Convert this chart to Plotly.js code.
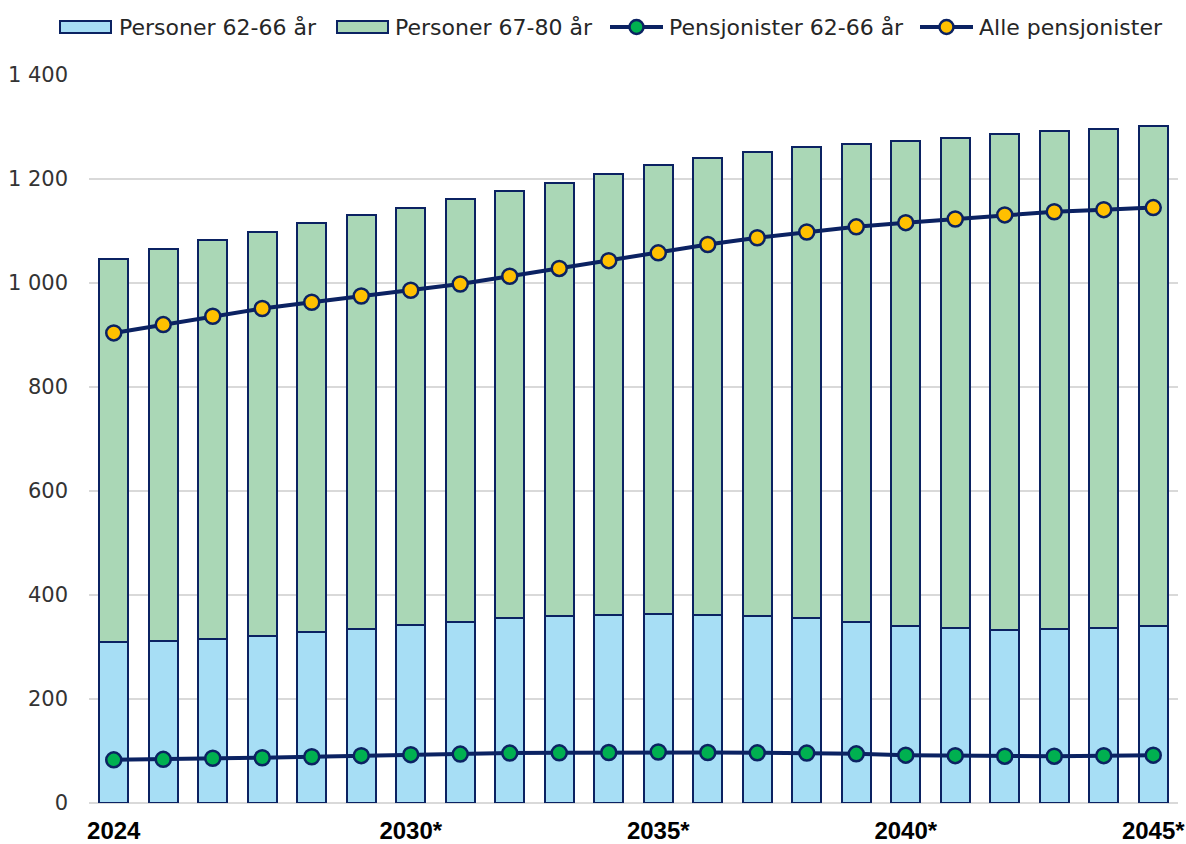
<!DOCTYPE html>
<html>
<head>
<meta charset="utf-8">
<script src="https://cdn.plot.ly/plotly-3.0.1.min.js"></script>
<style>html,body{margin:0;padding:0;background:#fff;}#chart{width:1186px;height:844px;}</style>
</head>
<body>
<div id="chart"></div>
<script>
// ---- Data ----
const years = ['2024','2025','2026','2027','2028','2029','2030','2031','2032','2033','2034','2035','2036','2037','2038','2039','2040','2041','2042','2043','2044','2045'];
const personer6266 = [309,312,315,322,328,334,343,349,355,359,361,363,361,359,355,348,341,337,333,334,336,341];
const personer6780 = [737,753,768,777,787,796,802,812,822,834,848,863,880,893,907,920,932,942,953,958,961,961];
const pensjonister6266 = [83,84,86,87,89,91,93,94,96,96.5,97,98,97,96.5,96,94.5,92,91,90,90,91,92];
const allePensjonister = [904,920,936,951,963,975,986,998,1013,1028,1043,1058,1074,1087,1098,1108,1116,1123,1131,1137,1141,1145];
const tickYears = ['2024','2030','2035','2040','2045'];
const tickLabels = ['2024','2030*','2035*','2040*','2045*'];
const seriesNames = ['Personer 62-66 år','Personer 67-80 år','Pensjonister 62-66 år','Alle pensjonister'];

// ---- Styles ----
const navy = '#0b2262';
const blueFill = '#a7def5';
const greenFill = '#aad7b6';
const yellow = '#ffc000';
const green = '#00b050';
const textFont = 'DejaVu Sans, sans-serif';

const traces = [
  {type:'bar', name:seriesNames[0], x:years, y:personer6266,
   marker:{color:blueFill, line:{color:navy, width:2}}, showlegend:false, hoverinfo:'y'},
  {type:'bar', name:seriesNames[1], x:years, y:personer6780,
   marker:{color:greenFill, line:{color:navy, width:2}}, showlegend:false, hoverinfo:'y'},
  {type:'scatter', mode:'lines+markers', name:seriesNames[2], x:years, y:pensjonister6266,
   line:{color:navy, width:4}, marker:{size:15, color:green, line:{color:navy, width:2.5}}, showlegend:false},
  {type:'scatter', mode:'lines+markers', name:seriesNames[3], x:years, y:allePensjonister,
   line:{color:navy, width:4}, marker:{size:15, color:yellow, line:{color:navy, width:2.5}}, showlegend:false}
];

// ---- Custom legend (pixel layout -> paper coords) ----
const W = 1186, H = 844;
const M = {l:89, r:8, t:74.5, b:41};
const pw = W - M.l - M.r, ph = H - M.t - M.b;
const px = v => (v - M.l) / pw;
const py = v => (H - M.b - v) / ph;

const legendItems = [
  {kind:'box', fill:blueFill, x0:60, x1:111, tx:117},
  {kind:'box', fill:greenFill, x0:337, x1:388, tx:393},
  {kind:'line', fill:green, x0:610, x1:663, tx:667},
  {kind:'line', fill:yellow, x0:920, x1:973, tx:977}
];
const legY = 26.5;
const shapes = [];
const annotations = [];
legendItems.forEach((it, i) => {
  if (it.kind === 'box') {
    shapes.push({type:'rect', xref:'paper', yref:'paper', x0:px(it.x0), x1:px(it.x1), y0:py(legY+6), y1:py(legY-6),
      fillcolor:it.fill, line:{color:navy, width:2}});
  } else {
    shapes.push({type:'line', xref:'paper', yref:'paper', x0:px(it.x0), x1:px(it.x1), y0:py(legY), y1:py(legY),
      line:{color:navy, width:4}});
    const cx = (it.x0 + it.x1) / 2;
    shapes.push({type:'circle', xref:'paper', yref:'paper', x0:px(cx-7), x1:px(cx+7), y0:py(legY+7), y1:py(legY-7),
      fillcolor:it.fill, line:{color:navy, width:2.5}});
  }
  annotations.push({xref:'paper', yref:'paper', x:px(it.tx), y:py(legY), xanchor:'left', yanchor:'middle',
    text:seriesNames[i], showarrow:false, font:{family:textFont, size:22, color:'#262626'}});
});

const layout = {
  width:W, height:H,
  margin:M,
  paper_bgcolor:'#ffffff', plot_bgcolor:'#ffffff',
  barmode:'stack', bargap:0.414,
  separators:', ',
  showlegend:false,
  xaxis:{type:'category', range:[-0.5, years.length - 0.5], autorange:false,
    tickvals:tickYears, ticktext:tickLabels, showgrid:false, zeroline:false, showline:false,
    ticks:'', ticklabelstandoff:11,
    tickfont:{family:'Liberation Sans, Arial, sans-serif', size:24, color:'#000000', weight:'bold'}},
  yaxis:{range:[0,1400], autorange:false, dtick:200, tick0:0, tickformat:',d', showgrid:true, gridcolor:'#d9d9d9', gridwidth:1.5,
    zeroline:true, zerolinecolor:'#d9d9d9', zerolinewidth:2, showline:false, ticks:'', ticklabelstandoff:20,
    tickfont:{family:textFont, size:21, color:'#333333'}},
  shapes:shapes,
  annotations:annotations
};

Plotly.newPlot('chart', traces, layout, {displayModeBar:false, staticPlot:true});
</script>
</body>
</html>
